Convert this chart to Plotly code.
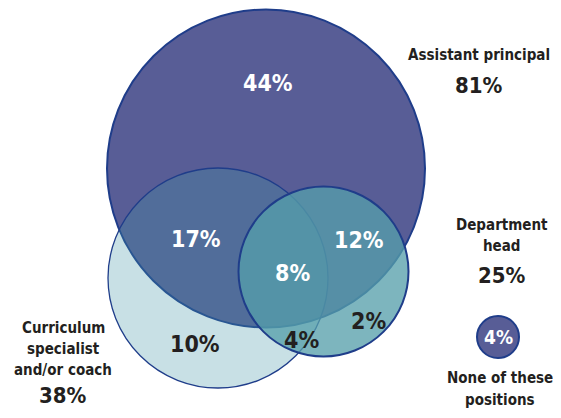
import plotly.graph_objects as go

# Venn sets: share of respondents in each position
SETS = ["Assistant principal", "Curriculum specialist and/or coach", "Department head"]
SET_PCT = [81, 38, 25]
NONE_PCT = 4

# Region shares (inside the Venn)
REGIONS = ["AP only", "AP + CS", "AP + DH", "AP + CS + DH", "CS only", "CS + DH", "DH only"]
REGION_PCT = [44, 17, 12, 8, 10, 4, 2]

# circle geometry in pixel space (cx, cy, r)
CIRCLES = {
    "Assistant principal": (266, 168.5, 159),
    "Curriculum specialist and/or coach": (218, 278, 110),
    "Department head": (323.5, 271.5, 85),
}
NONE_CIRCLE = (498, 337, 21)

FILLS = {
    "Assistant principal": "rgb(88,93,150)",
    "Curriculum specialist and/or coach": "rgba(65,148,165,0.29)",
    "Department head": "rgba(86,159,171,0.77)",
}
BORDER = "#1f3d8a"
BORDER_W = {"Assistant principal": 2, "Curriculum specialist and/or coach": 1.3, "Department head": 2}

REGION_POS = [(268, 83), (196, 239), (359, 240), (292, 273), (195, 344), (301, 340), (368, 321)]
REGION_DARK = [False, False, False, False, True, True, True]

FONT = "DejaVu Sans Condensed, Roboto, sans-serif"
INK = "#231f20"

# page body has an 8px margin: shift the axes so data units match page pixels
OFF = 8

fig = go.Figure()

shapes = []
for name in SETS:
    cx, cy, r = CIRCLES[name]
    shapes.append(dict(type="circle", xref="x", yref="y",
                       x0=cx - r, x1=cx + r, y0=cy - r, y1=cy + r,
                       fillcolor=FILLS[name],
                       line=dict(color=BORDER, width=BORDER_W[name])))
cx, cy, r = NONE_CIRCLE
shapes.append(dict(type="circle", xref="x", yref="y",
                   x0=cx - r, x1=cx + r, y0=cy - r, y1=cy + r,
                   fillcolor="rgb(88,93,150)", line=dict(color=BORDER, width=2)))

annotations = []
for pct, (x, y), dark in zip(REGION_PCT, REGION_POS, REGION_DARK):
    annotations.append(dict(x=x, y=y, text=f"<b>{pct}%</b>", showarrow=False,
                            font=dict(family=FONT, size=23, color=INK if dark else "white")))

annotations.append(dict(x=cx, y=cy, text=f"<b>{NONE_PCT}%</b>", showarrow=False,
                        font=dict(family=FONT, size=19, color="white")))

# outside labels: (lines, x, y of first line, pct y)
LABELS = [
    (["Assistant principal"], 479, 55, 85),
    (["Department", "head"], 502, 225, 275),
    (["Curriculum", "specialist", "and/or coach"], 63, 328, 395),
]
for (lines, x, y0, py), pct in zip(LABELS, [SET_PCT[0], SET_PCT[2], SET_PCT[1]]):
    for i, line in enumerate(lines):
        annotations.append(dict(x=x, y=y0 + i * 21, text=f"<b>{line}</b>", showarrow=False,
                                font=dict(family=FONT, size=15, color=INK)))
    annotations.append(dict(x=x, y=py, text=f"<b>{pct}%</b>", showarrow=False,
                            font=dict(family=FONT, size=22, color=INK)))

for i, line in enumerate(["None of these", "positions"]):
    annotations.append(dict(x=500, y=378 + i * 22, text=f"<b>{line}</b>", showarrow=False,
                            font=dict(family=FONT, size=15, color=INK)))

fig.update_layout(
    width=561, height=418,
    margin=dict(l=0, r=0, t=0, b=0),
    paper_bgcolor="white", plot_bgcolor="white",
    xaxis=dict(range=[OFF, 561 + OFF], visible=False, fixedrange=True),
    yaxis=dict(range=[418 + OFF, OFF], visible=False, fixedrange=True),
    shapes=shapes, annotations=annotations,
    showlegend=False,
)

fig.write_html("out.html")
